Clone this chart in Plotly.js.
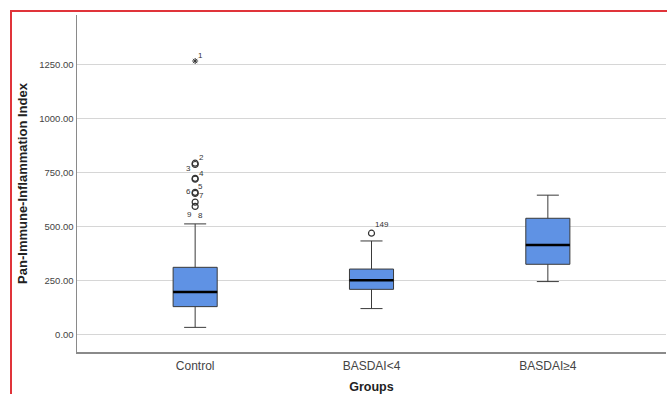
<!DOCTYPE html>
<html><head><meta charset="utf-8">
<script src="https://cdn.plot.ly/plotly-3.0.1.min.js"></script>
<style>
html,body{margin:0;padding:0;background:#fff;}
#wrap{position:relative;width:667px;height:394px;}
#chart{position:absolute;left:0;top:0;width:667px;height:394px;}
#frame{position:absolute;left:10px;top:10px;width:700px;height:400px;border-left:2px solid #e0343a;border-top:2px solid #e0343a;pointer-events:none;}
</style></head>
<body><div id="wrap"><div id="chart"></div><div id="frame"></div></div>
<script>
const groups = ["Control", "BASDAI<4", "BASDAI≥4"];
const q1 = [128, 208, 324];
const median = [196, 250, 413];
const q3 = [310, 302, 537];
const lowerWhisker = [32, 119, 244];
const upperWhisker = [511, 432, 644];

// outliers: group index, value, case label
const outGroup = [0, 0, 0, 0, 0, 0, 0, 0, 1];
const outValue = [792, 786, 722, 718, 657, 652, 592, 612, 468];
const outLabel = ["2", "3", "4", "5", "6", "7", "8", "9", "149"];
const extremeGroup = [0];
const extremeValue = [1265];
const extremeLabel = ["1"];

// label offsets in pixels (style only)
const outLabelShift = [[6, 6], [-7, -4], [6, 5], [5, -7], [-7, 1], [6, -2], [5, -9], [-6, -12], [10, 9]];
const extremeLabelShift = [[5, 6]];

const yTicks = [0, 250, 500, 750, 1000, 1250];
const yTickText = ["0.00", "250.00", "500.00", "750,00", "1000.00", "1250.00"];

const xIdx = groups.map((g, i) => i);
const boxW = 0.25;
const fill = "rgb(95,146,228)";
const labFont = {family: "Liberation Sans, Arial", size: 8, color: "#333"};

const traces = [];
traces.push({
  type: "box", x: xIdx, q1: q1, median: median, q3: q3,
  lowerfence: lowerWhisker, upperfence: upperWhisker,
  width: boxW, whiskerwidth: 0.5, fillcolor: fill,
  line: {color: "#3a3a3a", width: 1}, boxpoints: false, hoverinfo: "skip", showlegend: false
});
groups.forEach((g, i) => {
  traces.push({type: "scatter", mode: "lines", x: [i - boxW / 2, i + boxW / 2], y: [median[i], median[i]],
    line: {color: "#000", width: 2.5}, hoverinfo: "skip", showlegend: false});
});
traces.push({type: "scatter", mode: "markers", x: outGroup, y: outValue,
  marker: {symbol: "circle-open", size: 6, color: "#333", line: {width: 1.2}}, cliponaxis: false,
  hoverinfo: "skip", showlegend: false});
traces.push({type: "scatter", mode: "markers", x: extremeGroup, y: extremeValue,
  marker: {symbol: "asterisk-open", size: 5, color: "#333", line: {width: 1, color: "#333"}}, cliponaxis: false,
  hoverinfo: "skip", showlegend: false});

const annotations = [];
outLabel.forEach((t, k) => {
  annotations.push({x: outGroup[k], y: outValue[k], xref: "x", yref: "y", text: t, showarrow: false,
    xshift: outLabelShift[k][0], yshift: outLabelShift[k][1], font: labFont});
});
extremeLabel.forEach((t, k) => {
  annotations.push({x: extremeGroup[k], y: extremeValue[k], xref: "x", yref: "y", text: t, showarrow: false,
    xshift: extremeLabelShift[k][0], yshift: extremeLabelShift[k][1], font: labFont});
});

const layout = {
  width: 667, height: 394,
  margin: {l: 77, r: 1, t: 15, b: 42},
  paper_bgcolor: "rgba(0,0,0,0)", plot_bgcolor: "#fff",
  font: {family: "Liberation Sans, Arial, sans-serif", color: "#333"},
  annotations: annotations,
  xaxis: {
    range: [-0.67, 2.67], tickvals: xIdx, ticktext: groups, showgrid: false, zeroline: false,
    showline: true, linecolor: "#8a8a8a", linewidth: 1.5, ticks: "", ticklabelstandoff: 2,
    tickfont: {size: 12, color: "#444"},
    title: {text: "<b>Groups</b>", font: {size: 12.5, color: "#222"}, standoff: 12}, automargin: false
  },
  yaxis: {
    range: [-82, 1478], tickvals: yTicks, ticktext: yTickText, showgrid: true, gridcolor: "#d6d6d6", gridwidth: 1.5,
    zeroline: false, showline: true, linecolor: "#8a8a8a", linewidth: 1.5, ticks: "",
    tickfont: {size: 9.5, color: "#444"},
    title: {text: "<b>Pan-Immune-Inflammation Index</b>", font: {size: 13, color: "#222"}, standoff: 8}, automargin: false
  }
};
Plotly.newPlot("chart", traces, layout, {displayModeBar: false, staticPlot: true});
</script></body></html>
